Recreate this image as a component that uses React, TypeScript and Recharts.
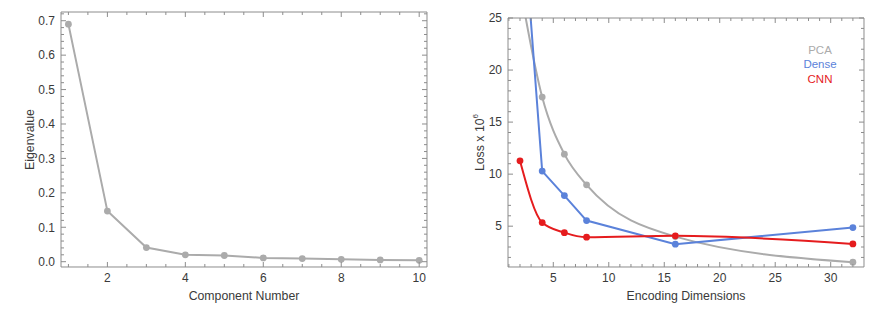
import { Legend, Line, LineChart, XAxis, YAxis } from "recharts";

// left panel: eigenvalue per principal component
const componentNumbers = [1, 2, 3, 4, 5, 6, 7, 8, 9, 10];
const eigenvalues = [0.69, 0.147, 0.041, 0.02, 0.018, 0.011, 0.009, 0.007, 0.005, 0.004];
const componentTicks = [2, 4, 6, 8, 10];
const componentMinorTicks = [1, 1.5, 2.5, 3, 3.5, 4.5, 5, 5.5, 6.5, 7, 7.5, 8.5, 9, 9.5];
const eigenTicks = [0, 0.1, 0.2, 0.3, 0.4, 0.5, 0.6, 0.7];
const eigenMinorTicks = [
  0.02, 0.04, 0.06, 0.08, 0.12, 0.14, 0.16, 0.18, 0.22, 0.24, 0.26, 0.28, 0.32, 0.34, 0.36,
  0.38, 0.42, 0.44, 0.46, 0.48, 0.52, 0.54, 0.56, 0.58, 0.62, 0.64, 0.66, 0.68, 0.72,
];

// right panel: reconstruction loss vs encoding size
const encodingDims = [2, 4, 6, 8, 16, 32];
const pcaLoss = [28, 17.4, 11.92, 8.97, 4.0, 1.54];
const denseLoss = [38.6, 10.29, 7.94, 5.54, 3.27, 4.87];
const cnnLoss = [11.28, 5.35, 4.38, 3.94, 4.07, 3.3];
const dimTicks = [5, 10, 15, 20, 25, 30];
const dimMinorTicks = [1, 2, 3, 4, 6, 7, 8, 9, 11, 12, 13, 14, 16, 17, 18, 19, 21, 22, 23, 24, 26, 27, 28, 29, 31, 32];
const lossTicks = [5, 10, 15, 20, 25];
const lossMinorTicks = [2, 3, 4, 6, 7, 8, 9, 11, 12, 13, 14, 16, 17, 18, 19, 21, 22, 23, 24];

const FRAME = "#8c8c8c";
const TEXT = "#3a3a3a";
const FONT = "'Liberation Sans', Arial, sans-serif";
const GRAY = "#ababab";
const BLUE = "#5b82da";
const RED = "#e51c1e";
const MAJOR = 5;
const MINOR = 3;
const THIN = 0.01; // axes need a non-zero size to be drawn

// PCA is a smooth curve, Dense is joined with straight segments
const series = [
  { key: "pca", name: "PCA", color: GRAY, curve: "monotone" },
  { key: "dense", name: "Dense", color: BLUE, curve: "linear" },
  { key: "cnn", name: "CNN", color: RED, curve: "monotone" },
] as const;

const eigenRows = componentNumbers.map((n, i) => ({ n, value: eigenvalues[i] }));
const lossRows = encodingDims.map((d, i) => ({
  d,
  pca: pcaLoss[i],
  dense: denseLoss[i],
  cnn: cnnLoss[i],
}));

const allTicks = (major: number[], minor: number[]) => [...major, ...minor].sort((a, b) => a - b);

// bottom tick: inward mark at bottom and top of the frame, label on majors only
function FrameXTick(props: any) {
  const { x, y, payload, major, span } = props;
  const isMajor = major.includes(payload.value);
  const len = isMajor ? MAJOR : MINOR;
  return (
    <g>
      <line x1={x} x2={x} y1={y} y2={y - len} stroke={FRAME} />
      <line x1={x} x2={x} y1={y - span} y2={y - span + len} stroke={FRAME} />
      {isMajor && (
        <text x={x} y={y + 6} dy="0.71em" textAnchor="middle" style={{ fontFamily: FONT, fontSize: 12, fill: TEXT }}>
          {payload.value}
        </text>
      )}
    </g>
  );
}

function FrameYTick(props: any) {
  const { x, y, payload, major, span, digits } = props;
  const isMajor = major.includes(payload.value);
  const len = isMajor ? MAJOR : MINOR;
  return (
    <g>
      <line x1={x} x2={x + len} y1={y} y2={y} stroke={FRAME} />
      <line x1={x + span} x2={x + span - len} y1={y} y2={y} stroke={FRAME} />
      {isMajor && (
        <text x={x - 6} y={y} dy="0.355em" textAnchor="end" style={{ fontFamily: FONT, fontSize: 12, fill: TEXT }}>
          {Number(payload.value).toFixed(digits)}
        </text>
      )}
    </g>
  );
}

function AxisTitle(props: any) {
  const { viewBox, text, sup, vertical, shift } = props;
  const { x, y, width, height } = viewBox;
  const style = { fontFamily: FONT, fontSize: 12.3, fill: TEXT };
  if (vertical) {
    const cx = x + shift;
    const cy = y + height / 2;
    return (
      <text x={cx} y={cy} transform={`rotate(-90 ${cx} ${cy})`} textAnchor="middle" dominantBaseline="central" style={style}>
        {text}
        {sup && (
          <tspan dy={-5} fontSize={8}>
            {sup}
          </tspan>
        )}
      </text>
    );
  }
  return (
    <text x={x + width / 2} y={y + shift} textAnchor="middle" dominantBaseline="central" style={style}>
      {text}
    </text>
  );
}

function LossLegend() {
  return (
    <div style={{ fontFamily: FONT, fontSize: 11.5, lineHeight: "14.5px", textAlign: "center" }}>
      {series.map((s) => (
        <div key={s.key} style={{ color: s.color }}>
          {s.name}
        </div>
      ))}
    </div>
  );
}

// top and right edges of the frame
function frameEdges(xDomain: number[], yDomain: number[]) {
  return [
    <XAxis key="top" xAxisId="top" orientation="top" type="number" height={THIN} domain={xDomain} allowDataOverflow tick={false} tickLine={false} stroke={FRAME} />,
    <YAxis key="right" yAxisId="right" orientation="right" type="number" width={THIN} domain={yDomain} allowDataOverflow tick={false} tickLine={false} stroke={FRAME} />,
  ];
}

export default function App() {
  const eigenX = [0.81, 10.2];
  const eigenY = [-0.0154, 0.7253];
  const lossX = [0.92, 33];
  const lossY = [1.08, 25];

  const left = { width: 440, height: 315, margin: { top: 12, right: 13, bottom: 48, left: 61 } };
  const right = { width: 447, height: 315, margin: { top: 18, right: 30, bottom: 48, left: 61 } };
  const plotW = (c: typeof left) => c.width - c.margin.left - c.margin.right;
  const plotH = (c: typeof left) => c.height - c.margin.top - c.margin.bottom;

  return (
    <div style={{ position: "absolute", left: 0, top: 0, width: 894, height: 315, background: "#fff" }}>
      <div style={{ position: "absolute", left: 0, top: 0 }}>
        <LineChart width={left.width} height={left.height} data={eigenRows} margin={left.margin}>
          {frameEdges(eigenX, eigenY)}
          <XAxis
            xAxisId="x"
            dataKey="n"
            type="number"
            domain={eigenX}
            allowDataOverflow
            ticks={allTicks(componentTicks, componentMinorTicks)}
            interval={0}
            height={THIN}
            tickLine={false}
            tickSize={0}
            tickMargin={0}
            stroke={FRAME}
            tick={<FrameXTick major={componentTicks} span={plotH(left)} />}
            label={<AxisTitle text="Component Number" shift={28.7} />}
          />
          <YAxis
            yAxisId="y"
            type="number"
            domain={eigenY}
            allowDataOverflow
            ticks={allTicks(eigenTicks, eigenMinorTicks)}
            interval={0}
            width={THIN}
            tickLine={false}
            tickSize={0}
            tickMargin={0}
            stroke={FRAME}
            tick={<FrameYTick major={eigenTicks} span={plotW(left)} digits={1} />}
            label={<AxisTitle text="Eigenvalue" vertical shift={-31.5} />}
          />
          <Line
            xAxisId="x"
            yAxisId="y"
            type="linear"
            dataKey="value"
            stroke={GRAY}
            strokeWidth={2}
            dot={{ r: 3.4, fill: GRAY, stroke: "none" }}
            isAnimationActive={false}
          />
        </LineChart>
      </div>

      <div style={{ position: "absolute", left: 447, top: 0 }}>
        <LineChart width={right.width} height={right.height} data={lossRows} margin={right.margin}>
          {frameEdges(lossX, lossY)}
          <XAxis
            xAxisId="x"
            dataKey="d"
            type="number"
            domain={lossX}
            allowDataOverflow
            ticks={allTicks(dimTicks, dimMinorTicks)}
            interval={0}
            height={THIN}
            tickLine={false}
            tickSize={0}
            tickMargin={0}
            stroke={FRAME}
            tick={<FrameXTick major={dimTicks} span={plotH(right)} />}
            label={<AxisTitle text="Encoding Dimensions" shift={28.7} />}
          />
          <YAxis
            yAxisId="y"
            type="number"
            domain={lossY}
            allowDataOverflow
            ticks={allTicks(lossTicks, lossMinorTicks)}
            interval={0}
            width={THIN}
            tickLine={false}
            tickSize={0}
            tickMargin={0}
            stroke={FRAME}
            tick={<FrameYTick major={lossTicks} span={plotW(right)} digits={0} />}
            label={<AxisTitle text="Loss x 10" sup="6" vertical shift={-28.3} />}
          />
          <Legend
            layout="vertical"
            align="center"
            verticalAlign="middle"
            content={<LossLegend />}
            wrapperStyle={{ top: 42.5, left: 343, width: 60 }}
          />
          {series.map((s) => (
            <Line
              key={s.key}
              xAxisId="x"
              yAxisId="y"
              type={s.curve}
              dataKey={s.key}
              name={s.name}
              stroke={s.color}
              strokeWidth={2}
              dot={{ r: 3.4, fill: s.color, stroke: "none" }}
              isAnimationActive={false}
            />
          ))}
        </LineChart>
      </div>
    </div>
  );
}
